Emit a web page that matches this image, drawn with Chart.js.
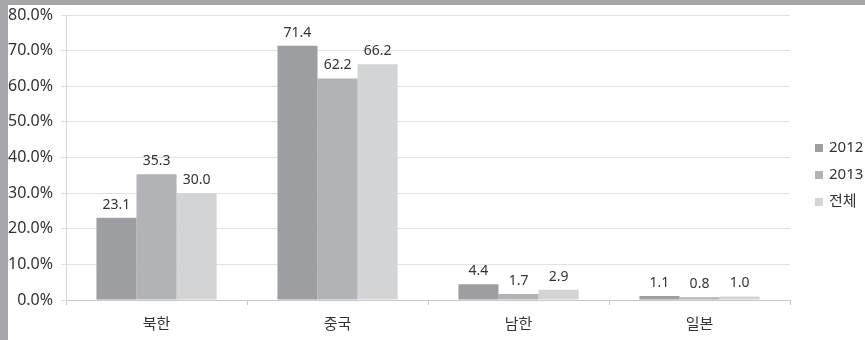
<!DOCTYPE html>
<html>
<head>
<meta charset="utf-8">
<script src="https://cdn.jsdelivr.net/npm/chart.js@4"></script>
<style>
  body { margin: 0; background: #a6a6aa; width: 865px; height: 340px; overflow: hidden; }
  #wrap { position: absolute; left: 8px; top: 5px; width: 857px; height: 335px; background: #fff; }
  #legend { position: absolute; left: 815px; top: 133px; font-family: "Noto Sans", "Noto Sans CJK KR", sans-serif; font-size: 15px; color: #333; }
  #legend div { height: 27px; line-height: 27px; white-space: nowrap; }
  #legend span { display: inline-block; width: 8px; height: 8px; margin-right: 6px; vertical-align: 0px; }
</style>
</head>
<body>
<div id="wrap"><canvas id="chart" width="857" height="335"></canvas></div>
<div id="legend"></div>
<script>
const categories = ["북한", "중국", "남한", "일본"];
const seriesNames = ["2012", "2013", "전체"];
const values2012 = [23.1, 71.4, 4.4, 1.1];
const values2013 = [35.3, 62.2, 1.7, 0.8];
const valuesAll = [30.0, 66.2, 2.9, 1.0];
const colors = ["#9d9ea2", "#b2b3b7", "#d3d4d6"];

const font = '"Noto Sans", "Noto Sans CJK KR", sans-serif';

// value labels above the bars
const barLabels = {
  id: "barLabels",
  afterDatasetsDraw(chart) {
    const ctx = chart.ctx;
    ctx.save();
    ctx.font = "14px " + font;
    ctx.fillStyle = "#333";
    ctx.textAlign = "center";
    ctx.textBaseline = "bottom";
    chart.data.datasets.forEach((ds, i) => {
      chart.getDatasetMeta(i).data.forEach((bar, j) => {
        ctx.fillText(ds.data[j].toFixed(1), bar.x, bar.y - 6);
      });
    });
    ctx.restore();
  },
};

// let layout padding alone decide the plot edges
function noEdgePadding(scale) {
  scale.paddingTop = 0;
  scale.paddingBottom = 0;
  scale.paddingLeft = 0;
  scale.paddingRight = 0;
}

const ctx = document.getElementById("chart").getContext("2d");
const chart = new Chart(ctx, {
  type: "bar",
  data: {
    labels: categories,
    datasets: [values2012, values2013, valuesAll].map((d, i) => ({
      label: seriesNames[i],
      data: d,
      backgroundColor: colors[i],
      barPercentage: 1.0,
      categoryPercentage: 0.664,
    })),
  },
  options: {
    responsive: false,
    animation: false,
    layout: { padding: { top: 10, right: 75, bottom: -5, left: -8 } },
    plugins: { legend: { display: false }, tooltip: { enabled: false } },
    scales: {
      x: {
        afterFit: noEdgePadding,
        grid: { drawOnChartArea: false, offset: true, tickLength: 5, color: "#c8c8c8" },
        border: { color: "#c8c8c8" },
        ticks: { padding: 11, color: "#333", font: { family: font, size: 15 } },
      },
      y: {
        afterFit: noEdgePadding,
        min: 0,
        max: 80,
        ticks: {
          stepSize: 10,
          padding: 8,
          color: "#333",
          font: { family: font, size: 16 },
          callback: (v) => v.toFixed(1) + "%",
        },
        grid: { color: "#e2e2e2", tickLength: 5 },
        border: { color: "#d4d4d4" },
      },
    },
  },
  plugins: [barLabels],
});

document.getElementById("legend").innerHTML = seriesNames
  .map((n, i) => `<div><span style="background:${colors[i]}"></span>${n}</div>`)
  .join("");
</script>
</body>
</html>
